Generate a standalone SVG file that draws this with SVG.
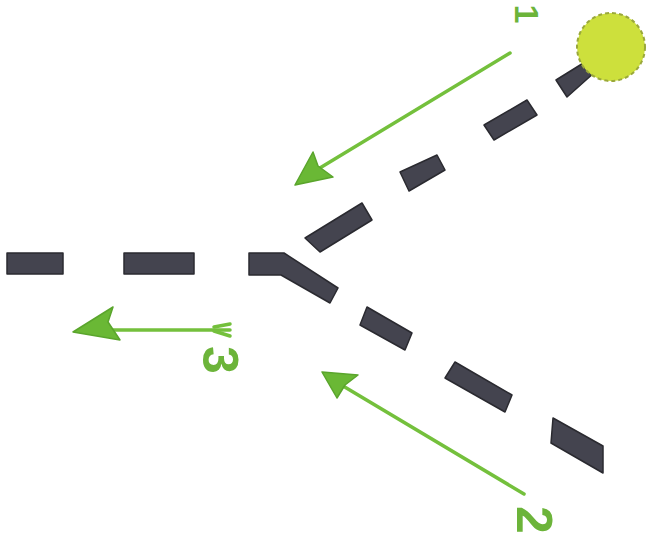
<svg xmlns="http://www.w3.org/2000/svg" width="649" height="540" viewBox="0 0 649 540">
<style>
.dash{fill:#44444f;stroke:#2a2a30;stroke-width:1.5;stroke-linejoin:round}
.arr{stroke:#74c03c;stroke-width:3.5;stroke-linecap:round;fill:none}
.head{fill:#6ab835;stroke:#5aa52c;stroke-width:1.5;stroke-linejoin:round}
.lbl{font-family:"Liberation Sans",Arial,sans-serif;font-weight:bold;fill:#6cb43a;text-anchor:middle}
</style>
<rect width="649" height="540" fill="#ffffff"/>
<g id="path-dashes">
<rect class="dash" x="7" y="253" width="56" height="21"/>
<rect class="dash" x="124" y="253" width="70" height="21"/>
<polygon class="dash" points="249,253 284,253 338,288 330,303 281,275 249,275"/>
<polygon class="dash" points="367,307 412,333 405,350 360,325"/>
<polygon class="dash" points="455,362 512,395 505,412 445,378"/>
<polygon class="dash" points="553,418 603,446 603,473 551,443"/>
<polygon class="dash" points="305,238 362,203 372,220 320,252"/>
<polygon class="dash" points="400,172 437,155 445,170 409,191"/>
<polygon class="dash" points="484,125 527,100 537,115 494,140"/>
<polygon class="dash" points="556,80 585,62 595,72 567,97"/>
</g>
<g id="start-node">
<circle cx="611" cy="47" r="34" fill="#cde03c" stroke="#9aa83a" stroke-width="2" stroke-dasharray="4 3"/>
</g>
<g id="connectors">
<g id="arrow-1">
<line class="arr" x1="510" y1="53" x2="305" y2="177"/>
<polygon class="head" points="295,185 313,152 318,166 333,177"/>
</g>
<g id="arrow-2">
<line class="arr" x1="524" y1="494" x2="333" y2="380"/>
<polygon class="head" points="322,372 358,375 345,385 337,398"/>
</g>
<g id="arrow-3">
<line class="arr" x1="230" y1="330" x2="110" y2="330"/>
<path class="arr" d="M214,327 L230,324 M214,331 L230,336" stroke-width="2.5"/>
<polygon class="head" points="73,332 113,307 108,322 120,340"/>
</g>
</g>
<g id="labels">
<text class="lbl" font-size="34" transform="translate(515,14) rotate(90)">1</text>
<text class="lbl" font-size="50" transform="translate(517,520) rotate(90)">2</text>
<text class="lbl" font-size="50" transform="translate(203,360) rotate(90)">3</text>
</g>
</svg>
